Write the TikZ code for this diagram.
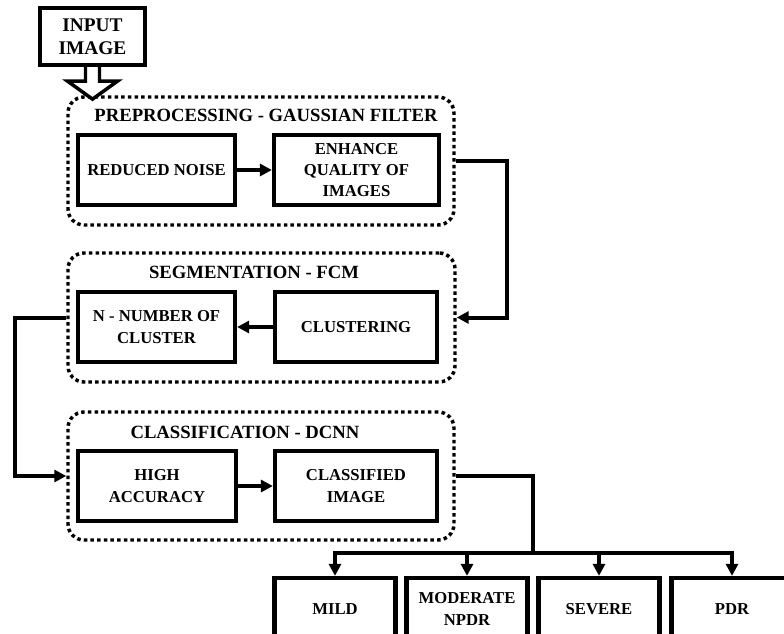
\documentclass[tikz,border=0pt]{standalone}
\usepackage{fontspec}
\setmainfont{Liberation Serif}
\usetikzlibrary{arrows.meta}
\begin{document}
\begin{tikzpicture}[x=0.75pt,y=-0.75pt,
  box/.style={draw, line width=3.2pt, align=center, inner sep=0pt,
    font=\bfseries\fontsize{12.5}{16}\selectfont},
  grp/.style={draw, line width=2.6pt, dash pattern=on 2.6pt off 2.4pt,
    rounded corners=12pt, minimum width=289.5pt, minimum height=96pt},
  ttl/.style={font=\bfseries\fontsize{14}{16}\selectfont, inner sep=0pt},
  conn/.style={line width=3pt, line join=miter},
  arr/.style={conn, -{Triangle[length=9pt,width=9pt]}},
  hollow/.style={line width=2.6pt, line join=miter, fill=white}]
\useasboundingbox (0,0) rectangle (784,634);
\clip (0,0) rectangle (784,634);

% input
\node[box, minimum width=78.75pt, minimum height=42.75pt,
  font=\bfseries\fontsize{14.5}{17}\selectfont] (in) at (92.5,36.5) {INPUT\\IMAGE};

% groups
\node[grp] (g1) at (261,161) {};
\node[grp, minimum width=290.25pt, minimum height=96.75pt] (g2) at (261.5,317.5) {};
\node[grp] (g3) at (261,476) {};

% hollow input arrow
\draw[hollow] (in.south) ++(-7,0) -- ++(0,14) -- ++(-18,0) -- ++(25,18)
  -- ++(25,-18) -- ++(-18,0) -- ++(0,-14);

% titles
\node[ttl] (t1) at (266,115) {PREPROCESSING - GAUSSIAN FILTER};
\node[ttl] (t2) at (254,272) {SEGMENTATION - FCM};
\node[ttl] (t3) at (245,432) {CLASSIFICATION - DCNN};

% inner boxes
\node[box, minimum width=117.75pt, minimum height=52.5pt] (rn) at (156.5,170) {REDUCED NOISE};
\node[box, minimum width=123.75pt, minimum height=52.5pt] (eq) at (356.5,170) {ENHANCE\\QUALITY OF\\IMAGES};
\node[box, minimum width=117.75pt, minimum height=52.5pt] (nc) at (156.5,327) {N - NUMBER OF\\CLUSTER};
\node[box, minimum width=121.5pt, minimum height=52.5pt] (cl) at (356,327) {CLUSTERING};
\node[box, minimum width=118.5pt, minimum height=52.5pt] (ha) at (157,486) {HIGH\\ACCURACY};
\node[box, minimum width=121.5pt, minimum height=52.5pt] (ci) at (356,486) {CLASSIFIED\\IMAGE};

% output boxes
\node[box, minimum width=90.75pt, minimum height=46.5pt] (mild) at (335,609) {MILD};
\node[box, minimum width=90.75pt, minimum height=46.5pt] (mod) at (467,609) {MODERATE\\NPDR};
\node[box, minimum width=90.75pt, minimum height=46.5pt] (sev) at (599,609) {SEVERE};
\node[box, minimum width=90.75pt, minimum height=46.5pt] (pdr) at (732,609) {PDR};

% connectors
\draw[arr] (rn) -- (eq);
\draw[arr] (cl) -- (nc);
\draw[arr] (ha) -- (ci);

\coordinate (r1) at (507,161);
\draw[arr] (g1.east) -- (r1) |- (g2.east);
\coordinate (l1) at (15,317.5);
\draw[arr] (g2.west) -- (l1) |- (g3.west);
\coordinate (bus) at (533,553);
\draw[conn] (g3.east) -| (bus);
\draw[arr] (bus) -| (mild.north);
\draw[arr] (bus) -| (pdr.north);
\draw[arr] (mod.north |- bus) -- (mod.north);
\draw[arr] (sev.north |- bus) -- (sev.north);
\end{tikzpicture}
\end{document}
